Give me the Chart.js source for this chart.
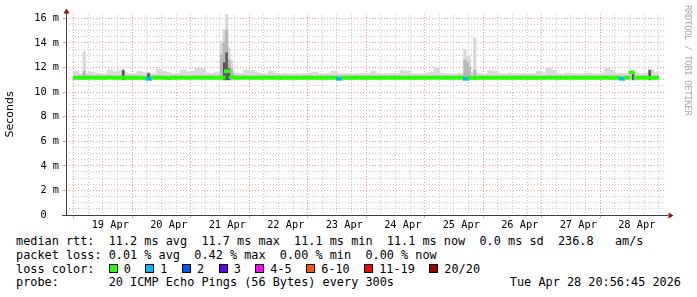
<!DOCTYPE html>
<html>
<head>
<meta charset="utf-8">
<script src="https://cdn.jsdelivr.net/npm/chart.js@4.4.1/dist/chart.umd.min.js"></script>
<style>
body { margin: 0; background: #fff; width: 697px; height: 297px; overflow: hidden; position: relative; font-family: "DejaVu Sans Mono", monospace; }
#wrap { position: absolute; left: 0; top: 0; width: 697px; height: 232px; }
.leg { position: absolute; left: 16px; font-size: 11.85px; line-height: 13.9px; white-space: pre; color: #000; }
.box { display: inline-block; width: 7px; height: 7px; border: 1px solid #000; margin-right: 6px; position: relative; top: 0px; }
.item { margin-right: 14.5px; }
#date { position: absolute; right: 16px; top: 276.3px; font-size: 11.85px; line-height: 13.9px; white-space: pre; }
#mark { position: absolute; left: 682.5px; top: 4.5px; writing-mode: vertical-rl; font-size: 9px; letter-spacing: -0.4px; line-height: 10px; color: #aaaaaa; white-space: pre; }
</style>
</head>
<body>
<div id="wrap"><canvas id="graph" width="697" height="232"></canvas></div>
<div id="mark">RRDTOOL / TOBI OETIKER</div>
<div class="leg" style="top:234.7px">median rtt:  11.2 ms avg  11.7 ms max  11.1 ms min  11.1 ms now  0.0 ms sd  236.8   am/s</div>
<div class="leg" style="top:248.6px">packet loss: 0.01 % avg  0.42 % max  0.00 % min  0.00 % now</div>
<div class="leg" id="lossRow" style="top:262.5px">loss color:  </div>
<div class="leg" style="top:276.4px">probe:       20 ICMP Echo Pings (56 Bytes) every 300s</div>
<div id="date">Tue Apr 28 20:56:45 2026</div>
<script>
// 10 days, hours counted from graph start (Apr 18 20:56)
var hours = 240;
var firstMidnight = 3.07;
var dayLabels = ['19 Apr', '20 Apr', '21 Apr', '22 Apr', '23 Apr', '24 Apr', '25 Apr', '26 Apr', '27 Apr', '28 Apr'];

// smoke envelope, one value per 2h bin (ms)
var smokeFloor = 11.0;
var coreLo = 11.1, coreHi = 11.35;
var smokeHi = [
  11.7, 11.5, 11.45, 11.65, 11.55, 11.5, 11.45, 11.8, 11.65, 11.75,
  11.6, 11.5, 11.45, 11.7, 11.6, 11.5, 11.45, 11.85, 11.7, 11.6,
  11.45, 11.5, 11.8, 11.65, 11.7, 11.95, 11.9, 11.55, 11.5, 11.6,
  11.7, 11.8, 11.7, 11.55, 11.5, 11.8, 11.75, 11.65, 11.5, 11.45,
  11.7, 11.55, 11.45, 11.5, 11.45, 11.5, 11.45, 11.5, 11.55, 11.6,
  11.5, 11.45, 11.55, 11.7, 11.5, 11.45, 11.5, 11.45, 11.5, 11.55,
  11.5, 11.7, 11.5, 11.45, 11.5, 11.55, 11.5, 11.75, 11.7, 11.5,
  11.45, 11.5, 11.55, 11.6, 12.0, 11.55, 11.5, 11.45, 11.5, 11.55,
  11.6, 11.6, 11.55, 11.5, 11.45, 11.75, 11.7, 11.5, 11.45, 11.55,
  11.5, 11.45, 11.5, 11.45, 11.5, 11.7, 11.55, 11.95, 11.8, 11.5,
  11.45, 11.55, 11.5, 11.45, 11.5, 11.55, 11.5, 11.45, 11.55, 11.95,
  11.8, 11.55, 11.5, 11.5, 11.6, 11.55, 11.5, 11.55, 11.8, 11.6
];
var median = [
  11.16, 11.16, 11.16, 11.17, 11.16, 11.16, 11.15, 11.17, 11.16, 11.16,
  11.17, 11.16, 11.16, 11.16, 11.12, 11.08, 11.16, 11.17, 11.16, 11.12,
  11.16, 11.16, 11.17, 11.16, 11.16, 11.17, 11.16, 11.16, 11.16, 11.16,
  11.18, 11.7, 11.2, 11.16, 11.16, 11.17, 11.16, 11.16, 11.16, 11.16,
  11.16, 11.16, 11.15, 11.16, 11.16, 11.16, 11.16, 11.16, 11.16, 11.16,
  11.16, 11.16, 11.16, 11.16, 11.08, 11.16, 11.16, 11.16, 11.16, 11.16,
  11.16, 11.16, 11.16, 11.16, 11.16, 11.16, 11.16, 11.16, 11.16, 11.16,
  11.16, 11.16, 11.16, 11.16, 11.17, 11.16, 11.16, 11.16, 11.16, 11.16,
  11.08, 11.16, 11.16, 11.16, 11.16, 11.16, 11.16, 11.16, 11.16, 11.16,
  11.16, 11.16, 11.16, 11.16, 11.16, 11.16, 11.16, 11.17, 11.16, 11.16,
  11.16, 11.16, 11.16, 11.16, 11.16, 11.16, 11.16, 11.16, 11.16, 11.17,
  11.16, 11.16, 11.08, 11.16, 11.6, 11.16, 11.16, 11.16, 11.16, 11.16
];
// lost pings out of 20 per bin
var loss = [
  0,0,0,0,0,0,0,0,0,0, 0,0,0,0,0,1,0,0,0,0,
  0,0,0,0,0,0,0,0,0,0, 0,0,0,0,0,0,0,0,0,0,
  0,0,0,0,0,0,0,0,0,0, 0,0,0,0,1,0,0,0,0,0,
  0,0,0,0,0,0,0,0,0,0, 0,0,0,0,0,0,0,0,0,0,
  1,0,0,0,0,0,0,0,0,0, 0,0,0,0,0,0,0,0,0,0,
  0,0,0,0,0,0,0,0,0,0, 0,0,1,0,0,0,0,0,0,0
];

// narrow rtt spikes (hours, top of light / medium / dark smoke in ms)
var spikeT     = [4.4, 20.4, 30.8, 60.8, 61.8, 62.8, 63.8, 64.8, 160.6, 161.6, 162.4, 164.6, 229.6, 236.4];
var spikeLight = [13.3, 11.85, 11.6, 14.1, 15.1, 16.3, 13.6, 12.6, 13.45, 12.9, 12.9, 14.4, 11.6, 11.85];
var spikeMid   = [11.7, 11.8, 11.55, 13.0, 14.0, 15.0, 12.6, 11.9, 12.6, 12.4, 12.0, 11.8, 11.55, 11.8];
var spikeDark  = [null, 11.75, 11.5, null, 12.4, 13.2, 11.9, null, null, null, null, null, 11.5, 11.75];

var lossLabels = ['0', '1', '2', '3', '4-5', '6-10', '11-19', '20/20'];
var lossColors = ['#26ff00', '#00b8ff', '#0059ff', '#5e00ff', '#ff00ff', '#ff5500', '#ff0000', '#a10000'];

function lossColor(n) {
  var idx = n == 0 ? 0 : n == 1 ? 1 : n == 2 ? 2 : n == 3 ? 3 : n <= 5 ? 4 : n <= 10 ? 5 : n < 20 ? 6 : 7;
  return lossColors[idx];
}

// legend row with colour boxes
var row = document.getElementById('lossRow');
lossLabels.forEach(function(lbl, i) {
  var s = document.createElement('span');
  s.className = 'item';
  s.innerHTML = '<span class="box" style="background:' + lossColors[i] + '"></span>' + lbl;
  row.appendChild(s);
});

var binHours = hours / smokeHi.length;
function binX(i) { return (i + 0.5) * binHours; }
var pxPerHour = 600 / hours;
var lineHalf = 0.122;

var smokeData = smokeHi.map(function(v, i) { return {x: binX(i), y: [smokeFloor, v]}; });
var coreData = smokeHi.map(function(v, i) { return {x: binX(i), y: [coreLo, Math.min(coreHi, v)]}; });
var medianData = median.map(function(v, i) { return {x: binX(i), y: [v - lineHalf, v + lineHalf]}; });
function spikeSet(tops) {
  var out = [];
  tops.forEach(function(v, i) {
    if (v !== null) out.push({x: spikeT[i], y: [smokeFloor, v]});
  });
  return out;
}

function bars(data, color, thick, order) {
  return {data: data, backgroundColor: color, barThickness: thick, grouped: false, order: order, borderWidth: 0};
}

var axesPlugin = {
  id: 'rrdAxes',
  afterDraw: function(chart) {
    var a = chart.chartArea, c = chart.ctx;
    c.save();
    c.strokeStyle = '#404040';
    c.lineWidth = 1;
    c.beginPath();
    c.moveTo(a.left + 0.5, 12);
    c.lineTo(a.left + 0.5, a.bottom + 0.5);
    c.moveTo(a.left - 4, a.bottom + 0.5);
    c.lineTo(a.right + 2, a.bottom + 0.5);
    c.stroke();
    c.fillStyle = '#901010';
    c.beginPath();
    c.moveTo(a.left + 0.5, 8.5);
    c.lineTo(a.left + 3.5, 13.5);
    c.lineTo(a.left - 2.5, 13.5);
    c.closePath();
    c.fill();
    c.beginPath();
    c.moveTo(a.right + 7.5, a.bottom + 0.5);
    c.lineTo(a.right + 2.5, a.bottom - 2.5);
    c.lineTo(a.right + 2.5, a.bottom + 3.5);
    c.closePath();
    c.fill();
    c.restore();
  }
};

var majorGrid = 'rgba(240,110,110,0.7)';
var minorGrid = 'rgba(150,150,150,0.5)';
var tickFont = {family: 'DejaVu Sans Mono', size: 10.3};

new Chart(document.getElementById('graph'), {
  type: 'bar',
  data: {
    datasets: [
      bars(medianData, loss.map(lossColor), binHours * pxPerHour + 0.5, 0),
      bars(spikeSet(spikeDark), '#555555', 1.8, 1),
      bars(spikeSet(spikeMid), '#b8b8b8', 2.6, 2),
      bars(spikeSet(spikeLight), '#d8d8d8', 2.6, 3),
      bars(coreData, '#c4c4c4', binHours * pxPerHour + 0.6, 4),
      bars(smokeData, '#dadada', binHours * pxPerHour + 0.6, 5)
    ]
  },
  options: {
    responsive: false,
    animation: false,
    events: [],
    layout: {padding: {left: 0, right: 31, top: 14, bottom: 0}},
    plugins: {legend: {display: false}, tooltip: {enabled: false}},
    scales: {
      x: {
        type: 'linear',
        min: 0,
        max: hours,
        afterBuildTicks: function(s) {
          var t = [];
          for (var v = firstMidnight; v < hours; v += 6) t.push({value: v});
          s.ticks = t;
        },
        afterFit: function(s) { s.height = 17; },
        grid: {
          color: function(ctx) { return ctx.index % 4 == 0 ? majorGrid : minorGrid; },
          tickColor: function(ctx) { return ctx.index % 4 == 0 ? majorGrid : 'rgba(0,0,0,0)'; },
          tickLength: 3
        },
        border: {display: false, dash: [1, 2]},
        ticks: {
          autoSkip: false,
          maxRotation: 0,
          padding: 1.5,
          color: '#000',
          font: tickFont,
          callback: function(v, i) { return i % 4 == 2 ? dayLabels[(i - 2) / 4] : ''; }
        }
      },
      y: {
        min: 0,
        max: 16.35,
        afterBuildTicks: function(s) {
          var t = [];
          for (var v = 0; v <= 16; v += 0.5) t.push({value: v});
          s.ticks = t;
        },
        afterFit: function(s) { s.width = 66; },
        grid: {
          color: function(ctx) { return ctx.tick && ctx.tick.value % 2 == 0 ? majorGrid : minorGrid; },
          tickColor: function(ctx) { return ctx.tick && ctx.tick.value % 2 == 0 ? majorGrid : 'rgba(0,0,0,0)'; },
          tickLength: 3
        },
        border: {display: false, dash: [1, 2]},
        title: {display: true, text: 'Seconds', color: '#000', font: {family: 'DejaVu Sans', size: 11}, padding: {top: 4, bottom: 0}},
        ticks: {
          autoSkip: false,
          padding: 4,
          color: '#000',
          font: tickFont,
          callback: function(v) {
            if (v % 2 != 0) return '';
            return v == 0 ? '0  ' : v + ' m';
          }
        }
      }
    }
  },
  plugins: [axesPlugin]
});
</script>
</body>
</html>
